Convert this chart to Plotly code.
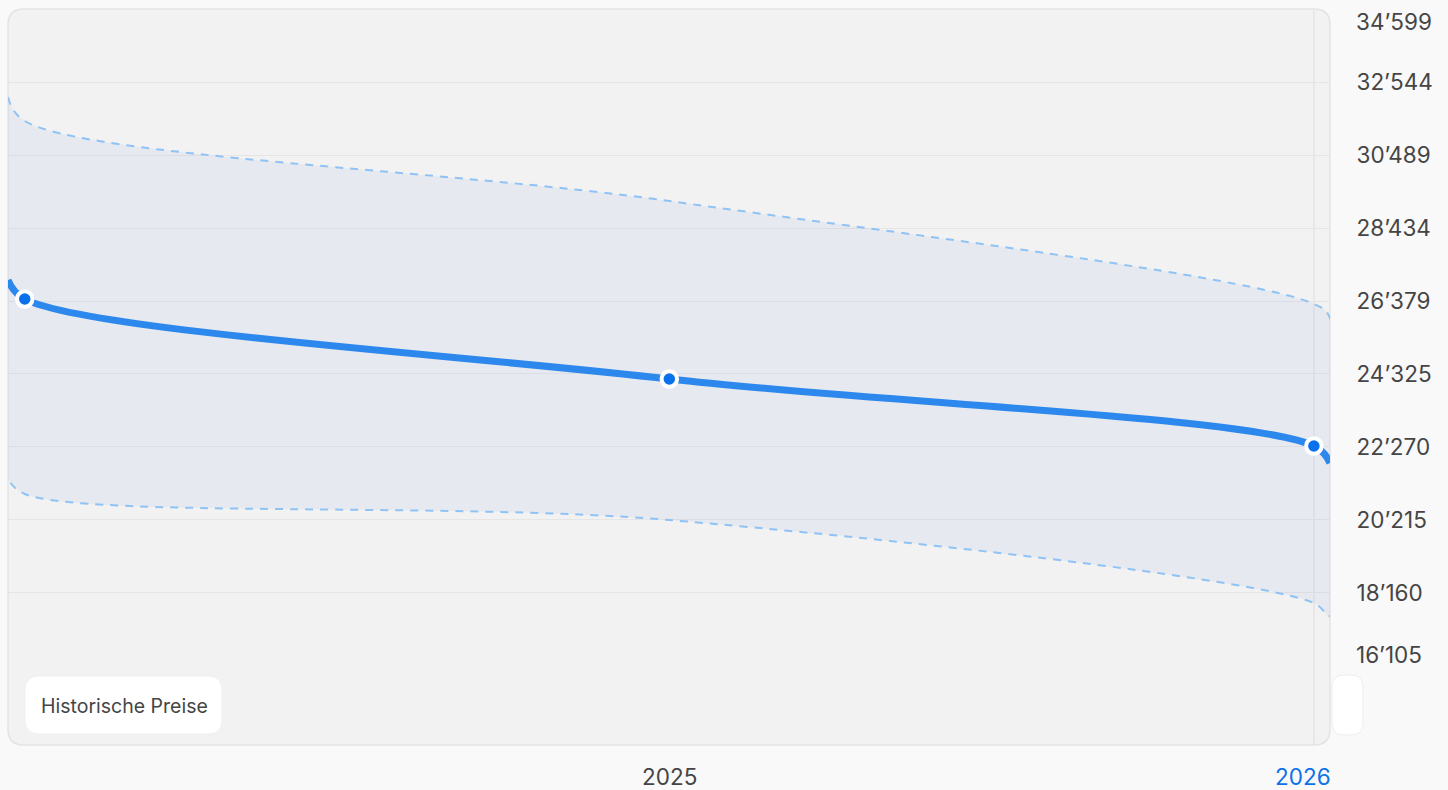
import plotly.graph_objects as go

# ---------------- data ----------------
years = [2023.974, 2024, 2025, 2026, 2026.025]          # first/last = visible edges
price = [26971, 26436, 24184, 22298, 21819]              # historical / forecast line
upper = [32122, 31446, 29194, 26295, 25901]              # band upper bound
lower = [21369, 20947, 20215, 17878, 17513]              # band lower bound
marker_years = [2024, 2025, 2026]
marker_price = [26436, 24184, 22298]

y_ticks = [32544, 30489, 28434, 26379, 24325, 22270, 20215, 18160]
y_tick_labels = ["32’544", "30’489", "28’434", "26’379", "24’325", "22’270", "20’215", "18’160"]
y_top_label, y_top_val = "34’599", 34599
y_bot_label, y_bot_val = "16’105", 16105
x_labels = ["2025", "2026"]
x_label_pos = [2025, 2026]
legend_text = "Historische Preise"

Y_RANGE = [13881, 34599]
X_RANGE = [2023.974, 2026.025]

# ---------------- layout geometry ----------------
W, H = 1448, 790
L, R, T, B = 8, 118, 9, 45
PW, PH = W - L - R, H - T - B


def px(x):
    return (x - L) / PW


def py(y):
    return (H - B - y) / PH


def rrect(x0, y0, x1, y1, r):
    """rounded rect path in paper coords from pixel coords"""
    X = lambda v: f"{px(v):.6f}"
    Y = lambda v: f"{py(v):.6f}"
    return (f"M{X(x0 + r)},{Y(y0)} L{X(x1 - r)},{Y(y0)} Q{X(x1)},{Y(y0)} {X(x1)},{Y(y0 + r)} "
            f"L{X(x1)},{Y(y1 - r)} Q{X(x1)},{Y(y1)} {X(x1 - r)},{Y(y1)} "
            f"L{X(x0 + r)},{Y(y1)} Q{X(x0)},{Y(y1)} {X(x0)},{Y(y1 - r)} "
            f"L{X(x0)},{Y(y0 + r)} Q{X(x0)},{Y(y0)} {X(x0 + r)},{Y(y0)} Z")


FONT = "Inter, 'Noto Sans', sans-serif"
TXT = "#454545"
AX_SIZE = 22.5

fig = go.Figure()

# band (closed polygon, dashed outline)
fig.add_trace(go.Scatter(
    x=years + years[::-1],
    y=upper + lower[::-1],
    mode="lines",
    fill="toself",
    fillcolor="rgba(75,125,209,0.065)",
    line=dict(color="#8fc3f5", width=2, dash="8px,7px", shape="spline"),
    hoverinfo="skip",
    showlegend=False,
))

# main line
fig.add_trace(go.Scatter(
    x=years, y=price, mode="lines",
    line=dict(color="#2d88ed", width=7, shape="spline"),
    hoverinfo="skip", showlegend=False,
))

# markers
fig.add_trace(go.Scatter(
    x=marker_years, y=marker_price, mode="markers",
    marker=dict(size=15.5, color="#0a70eb", line=dict(color="white", width=4)),
    hoverinfo="skip", showlegend=False,
))

shapes = [
    # panel
    dict(type="path", xref="paper", yref="paper", layer="below",
         path=rrect(8, 9, 1330, 745, 16),
         fillcolor="#f2f2f2", line=dict(color="#e3e3e3", width=1.5)),
    # today line at 2026
    dict(type="line", xref="x", yref="paper", layer="below",
         x0=2026, x1=2026, y0=0, y1=1, line=dict(color="#e5e5e5", width=1.5)),
    # legend pill
    dict(type="path", xref="paper", yref="paper", layer="above",
         path=rrect(25, 676, 222, 734, 14),
         fillcolor="white", line=dict(color="#f0f0f0", width=1)),
    # small pill on the right
    dict(type="path", xref="paper", yref="paper", layer="above",
         path=rrect(1332, 675, 1363, 735, 12),
         fillcolor="white", line=dict(color="#eeeeee", width=1)),
]

annotations = [
    dict(text=legend_text, xref="paper", yref="paper", x=px(39), y=py(706),
         xanchor="left", yanchor="middle", showarrow=False,
         font=dict(family=FONT, size=19.5, color=TXT)),
    dict(text=y_top_label, xref="paper", yref="y", x=px(1354), y=y_top_val, yshift=-12,
         xanchor="left", yanchor="middle", showarrow=False,
         font=dict(family=FONT, size=AX_SIZE, color=TXT)),
    dict(text=y_bot_label, xref="paper", yref="y", x=px(1354), y=y_bot_val, yshift=11,
         xanchor="left", yanchor="middle", showarrow=False,
         font=dict(family=FONT, size=AX_SIZE, color=TXT)),
    dict(text=x_labels[0], xref="x", yref="paper", x=x_label_pos[0], y=0, yshift=-31,
         xanchor="center", yanchor="middle", showarrow=False,
         font=dict(family=FONT, size=AX_SIZE, color=TXT)),
    dict(text=x_labels[1], xref="x", yref="paper", x=x_label_pos[1], y=0, yshift=-31, xshift=-11,
         xanchor="center", yanchor="middle", showarrow=False,
         font=dict(family=FONT, size=AX_SIZE, color="#0b72e7")),
]

fig.update_layout(
    width=W, height=H,
    margin=dict(l=L, r=R, t=T, b=B),
    paper_bgcolor="#f9f9f9",
    plot_bgcolor="rgba(0,0,0,0)",
    shapes=shapes,
    annotations=annotations,
    showlegend=False,
    xaxis=dict(range=X_RANGE, showgrid=False, zeroline=False, showticklabels=False,
               showline=False, ticks="", fixedrange=True),
    yaxis=dict(range=Y_RANGE, side="right", tickvals=y_ticks, ticktext=y_tick_labels,
               showgrid=True, gridcolor="#e5e5e5", gridwidth=1, zeroline=False,
               showline=False, ticks="outside", ticklen=21, tickcolor="rgba(0,0,0,0)",
               tickfont=dict(family=FONT, size=AX_SIZE, color=TXT), fixedrange=True),
)

fig.write_html(
    "out.html",
    config={"displayModeBar": False},
    post_script="document.body.style.margin='0';document.body.style.padding='0';"
                "document.body.style.overflow='hidden';document.body.style.background='#f9f9f9';",
)
